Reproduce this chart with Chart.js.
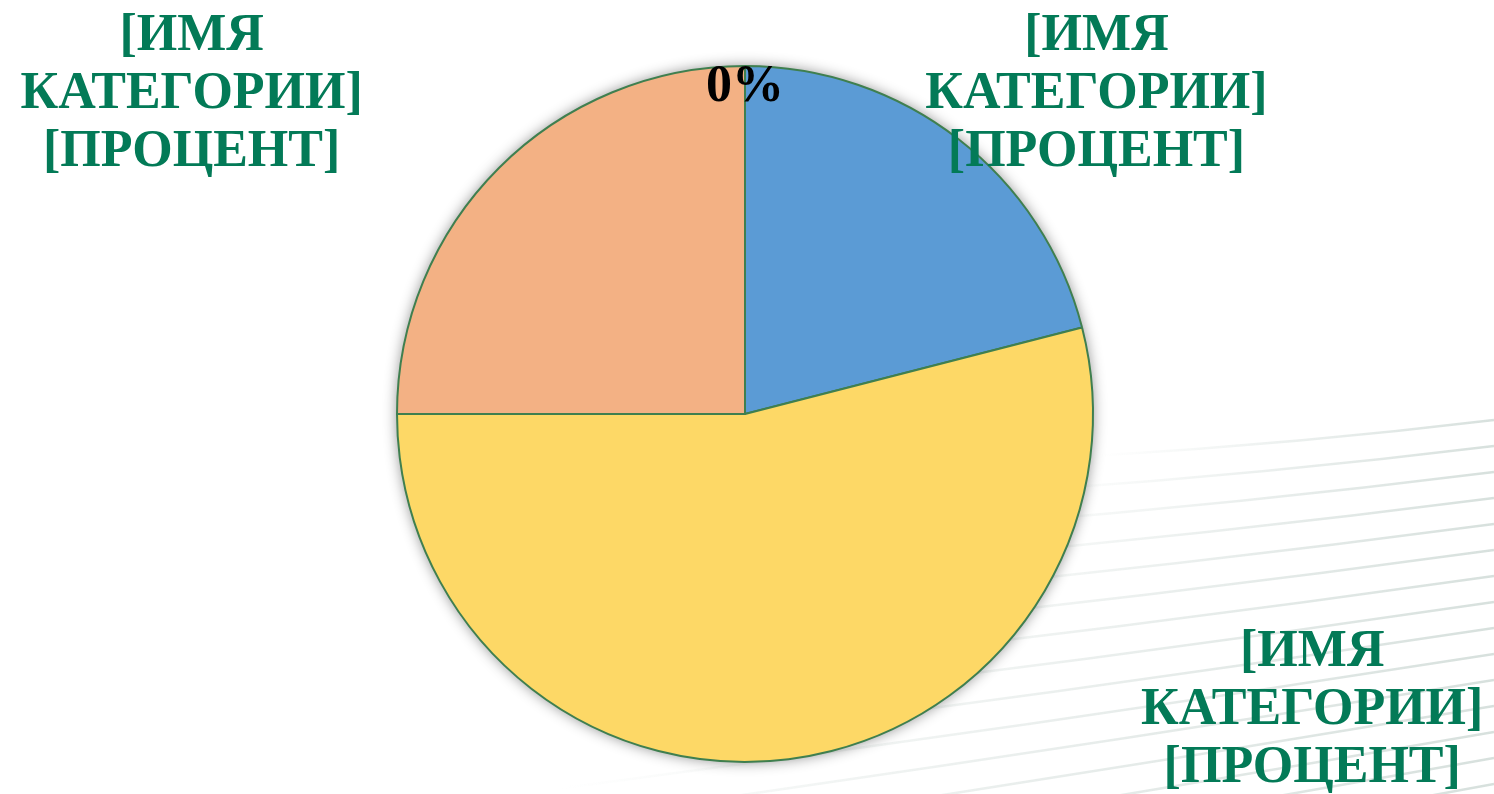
<!DOCTYPE html>
<html lang="ru">
<head>
<meta charset="utf-8">
<title>Диаграмма</title>
<script src="https://cdn.jsdelivr.net/npm/chart.js@4.4.1/dist/chart.umd.min.js"></script>
<style>
  html, body { margin: 0; padding: 0; background: #fff; }
  #wrap { width: 1494px; height: 794px; position: relative; }
</style>
</head>
<body>
<div id="wrap"><canvas id="pieChart"></canvas></div>
<script>
// data
const categories = ["Кв. 1", "Кв. 2", "Кв. 3", "Кв. 4"];
const values = [21, 54, 25, 0];
const sliceColors = ["#5b9bd5", "#fdd866", "#f3b184", "#a5a5a5"];

// what each data label shows (Excel placeholder text)
const labelLines = [
  ["[ИМЯ", "КАТЕГОРИИ]", "[ПРОЦЕНТ]"],
  ["[ИМЯ", "КАТЕГОРИИ]", "[ПРОЦЕНТ]"],
  ["[ИМЯ", "КАТЕГОРИИ]", "[ПРОЦЕНТ]"],
  ["0%"],
];
// label anchors, in pie radii from the centre
const labelAnchor = [
  { dx: 1.01, dy: -0.93, color: "#037a57" },
  { dx: 1.63, dy: 0.84, color: "#037a57" },
  { dx: -1.59, dy: -0.93, color: "#037a57" },
  { dx: 0.0, dy: -0.95, color: "#000000" },
];

const FONT = 'bold 52px "Liberation Serif", "Times New Roman", serif';
const LINE_H = 58;

// faint slide-background lines in the lower right
const backdrop = {
  id: "backdrop",
  beforeDraw(chart) {
    const ctx = chart.ctx;
    const W = chart.width;
    ctx.save();
    for (let i = 0; i < 16; i++) {
      const yR = 420 + i * 26;
      const slope = 0.09 + i * 0.006;
      const xL = 1100 - i * 60;
      const yL = yR + slope * (W - xL);
      const g = ctx.createLinearGradient(xL, 0, W, 0);
      g.addColorStop(0, "rgba(215,224,221,0)");
      g.addColorStop(0.55, "rgba(215,224,221,0.55)");
      g.addColorStop(1, "rgba(208,219,215,0.85)");
      ctx.strokeStyle = g;
      ctx.lineWidth = 2.5;
      ctx.beginPath();
      ctx.moveTo(xL, yL);
      ctx.quadraticCurveTo((xL + W) / 2, (yL + yR) / 2 + 6, W, yR);
      ctx.stroke();
    }
    ctx.restore();
  },
};

// soft shadow under the whole pie
const pieShadow = {
  id: "pieShadow",
  beforeDatasetsDraw(chart) {
    const arc = chart.getDatasetMeta(0).data[0];
    if (!arc) return;
    const ctx = chart.ctx;
    ctx.save();
    ctx.shadowColor = "rgba(0,0,0,0.45)";
    ctx.shadowBlur = 14;
    ctx.fillStyle = "#fff";
    ctx.beginPath();
    ctx.arc(arc.x, arc.y, arc.outerRadius, 0, Math.PI * 2);
    ctx.fill();
    ctx.restore();
  },
};

const sliceLabels = {
  id: "sliceLabels",
  afterDatasetsDraw(chart) {
    const meta = chart.getDatasetMeta(0);
    const ctx = chart.ctx;
    ctx.save();
    ctx.font = FONT;
    ctx.textAlign = "center";
    ctx.textBaseline = "alphabetic";
    meta.data.forEach((arc, i) => {
      const a = labelAnchor[i];
      const lines = labelLines[i];
      const cx = arc.x + a.dx * arc.outerRadius;
      const cy = arc.y + a.dy * arc.outerRadius;
      ctx.fillStyle = a.color;
      const top = cy - ((lines.length - 1) * LINE_H) / 2;
      lines.forEach((t, k) => ctx.fillText(t, cx, top + k * LINE_H + 18));
    });
    ctx.restore();
  },
};

new Chart(document.getElementById("pieChart"), {
  type: "pie",
  data: {
    labels: categories,
    datasets: [
      {
        data: values,
        backgroundColor: sliceColors,
        borderColor: "#3f7f4f",
        borderWidth: 2,
      },
    ],
  },
  options: {
    responsive: true,
    maintainAspectRatio: false,
    animation: false,
    radius: 348,
    layout: { padding: { top: 34, bottom: 0, left: 0, right: 4 } },
    plugins: {
      legend: { display: false },
      tooltip: { enabled: false },
    },
  },
  plugins: [backdrop, pieShadow, sliceLabels],
});
</script>
</body>
</html>
